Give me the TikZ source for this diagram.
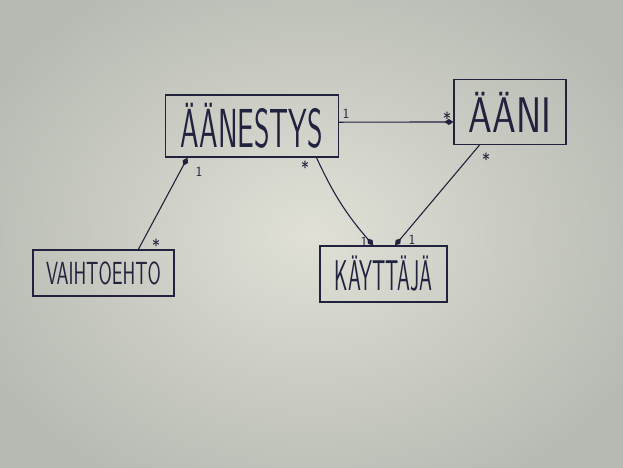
\documentclass[tikz,border=0pt]{standalone}
\usepackage{graphicx}
\usetikzlibrary{arrows.meta,calc}
\definecolor{ink}{RGB}{32,34,62}
\definecolor{boardin}{RGB}{224,224,214}
\definecolor{boardout}{RGB}{182,186,178}
\newcommand{\hwlabel}[3]{\scalebox{#2}[1]{\fontsize{#1}{#1}\selectfont\sffamily #3}}
\tikzset{
  box/.style={draw=ink, line width=1.3pt, inner sep=0pt, text=ink},
  conn/.style={draw=ink, line width=1.1pt},
  comp/.style={conn, -{Diamond[length=9pt,width=6pt,fill=ink]}},
  mult/.style={text=ink, font=\sffamily\fontsize{14}{14}\selectfont, inner sep=1pt},
  star/.style={text=ink, font=\sffamily\fontsize{18}{18}\selectfont, inner sep=0pt}
}
\begin{document}
\begin{tikzpicture}[x=1pt,y=-1pt]
\path[use as bounding box] (0,0) rectangle (623,467);
\shade[inner color=boardin, outer color=boardout] (-60,-60) rectangle (683,527);

\node[box, minimum width=173pt, minimum height=62pt] (aan) at (252,126) {\hwlabel{55}{0.54}{ÄÄNESTYS}};
\node[box, minimum width=112pt, minimum height=65pt] (aani) at (510,112) {\hwlabel{50}{0.76}{ÄÄNI}};
\node[box, minimum width=141pt, minimum height=46pt] (vaiht) at (103.5,273) {\hwlabel{32}{0.6}{VAIHTOEHTO}};
\node[box, minimum width=127pt, minimum height=56pt] (kayt) at (383.5,274) {\hwlabel{43}{0.48}{KÄYTTÄJÄ}};

\coordinate (aanE) at ($(aan.north east)!0.44!(aan.south east)$);
\coordinate (aaniW) at ($(aani.north west)!0.65!(aani.south west)$);
\draw[comp] (aanE) -- (aaniW);

\coordinate (vaihtN) at ($(vaiht.north west)!0.745!(vaiht.north east)$);
\coordinate (aanS1) at ($(aan.south west)!0.13!(aan.south east)$);
\draw[comp] (vaihtN) -- (aanS1);

\coordinate (aanS2) at ($(aan.south west)!0.87!(aan.south east)$);
\coordinate (kaytN1) at ($(kayt.north west)!0.42!(kayt.north east)$);
\draw[comp] (aanS2) to[bend right=8] (kaytN1);

\coordinate (aaniS) at ($(aani.south west)!0.23!(aani.south east)$);
\coordinate (kaytN2) at ($(kayt.north west)!0.59!(kayt.north east)$);
\draw[comp] (aaniS) -- (kaytN2);

\node[mult] (m1) at (346,114) {1};
\node[star] (m2) at (447,119) {*};
\node[mult] (m3) at (199,172) {1};
\node[star] (m4) at (156,246) {*};
\node[star] (m5) at (305,168) {*};
\node[mult] (m6) at (364,242) {1};
\node[mult] (m7) at (412,240) {1};
\node[star] (m8) at (486,160) {*};
\end{tikzpicture}
\end{document}
